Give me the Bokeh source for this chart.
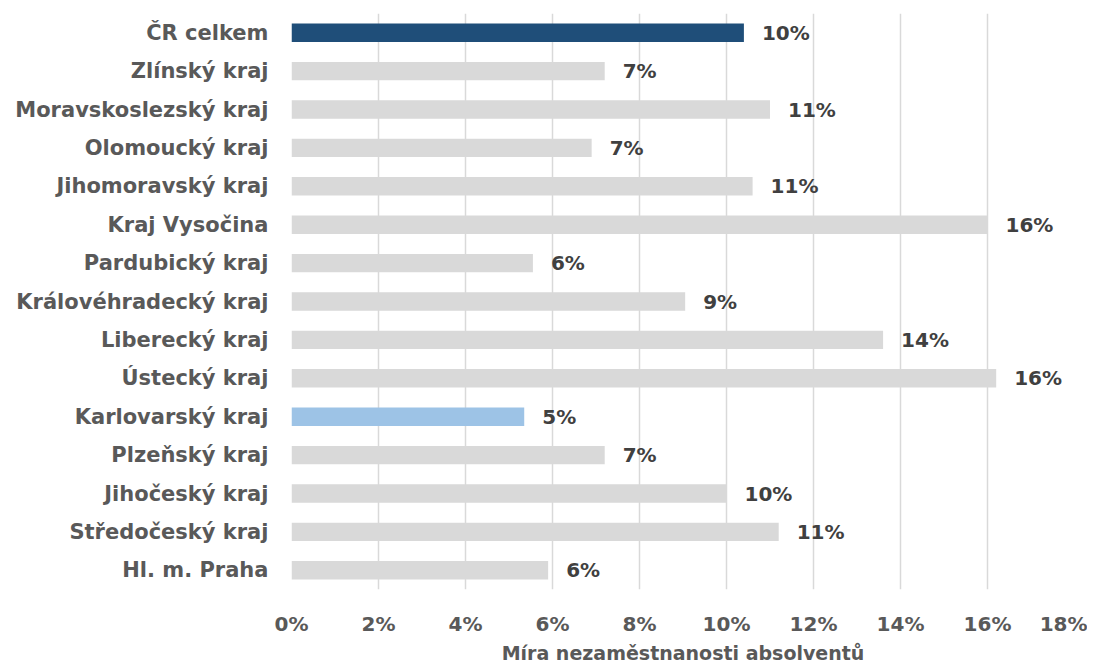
from bokeh.plotting import figure
from bokeh.models import ColumnDataSource, FactorRange, FixedTicker, CustomJSTickFormatter
from bokeh.embed import file_html
from bokeh.resources import INLINE
from bokeh.core.properties import value

regions = ["ČR celkem", "Zlínský kraj", "Moravskoslezský kraj", "Olomoucký kraj",
           "Jihomoravský kraj", "Kraj Vysočina", "Pardubický kraj", "Královéhradecký kraj",
           "Liberecký kraj", "Ústecký kraj", "Karlovarský kraj", "Plzeňský kraj",
           "Jihočeský kraj", "Středočeský kraj", "Hl. m. Praha"]
rates = [10.4, 7.2, 11.0, 6.9, 10.6, 16.0, 5.55, 9.05, 13.6, 16.2, 5.35, 7.2, 10.0, 11.2, 5.9]
x_ticks = [0, 2, 4, 6, 8, 10, 12, 14, 16, 18]
x_title = "Míra nezaměstnanosti absolventů"

colors = []
for r in regions:
    if r == "ČR celkem":
        colors.append("#1F4E79")
    elif r == "Karlovarský kraj":
        colors.append("#9DC3E6")
    else:
        colors.append("#D9D9D9")

labels = [f"{round(v):d}%" for v in rates]
src = ColumnDataSource(dict(region=regions, rate=rates, color=colors, label=labels))

FONT = "DejaVu Sans"

p = figure(frame_width=783, frame_height=576, output_backend="svg", toolbar_location=None,
           y_range=FactorRange(*list(reversed(regions))), x_range=(0, 18),
           min_border_left=291, min_border_right=13, min_border_top=13, min_border_bottom=0)
p.outline_line_color = None

p.hbar(y="region", right="rate", left=0, height=0.48, color="color", source=src, line_color=None)
p.text(x="rate", y="region", text="label", source=src, x_offset=18,
       text_font=value(FONT), text_font_style="bold", text_font_size="20px",
       text_color="#404040", text_baseline="middle", text_align="left")

p.xaxis.ticker = FixedTicker(ticks=x_ticks)
p.xaxis.formatter = CustomJSTickFormatter(code="return tick + '%';")
p.xaxis.axis_line_color = None
p.xaxis.major_tick_line_color = None
p.xaxis.minor_tick_line_color = None
p.xaxis.major_tick_out = 0
p.xaxis.major_tick_in = 0
p.xaxis.major_label_standoff = 22
p.xaxis.major_label_text_font = FONT
p.xaxis.major_label_text_font_style = "bold"
p.xaxis.major_label_text_font_size = "20px"
p.xaxis.major_label_text_color = "#595959"
p.xaxis.axis_label = x_title
p.xaxis.axis_label_text_font = FONT
p.xaxis.axis_label_text_font_style = "bold"
p.xaxis.axis_label_text_font_size = "19px"
p.xaxis.axis_label_text_color = "#595959"
p.xaxis.axis_label_standoff = 3

p.yaxis.axis_line_color = None
p.yaxis.major_tick_line_color = None
p.yaxis.minor_tick_line_color = None
p.yaxis.major_tick_out = 0
p.yaxis.major_tick_in = 0
p.yaxis.major_label_standoff = 23
p.yaxis.major_label_text_font = FONT
p.yaxis.major_label_text_font_style = "bold"
p.yaxis.major_label_text_font_size = "21px"
p.yaxis.major_label_text_color = "#595959"

p.xgrid.grid_line_color = "#D9D9D9"
p.xgrid.grid_line_width = 1.5
p.ygrid.grid_line_color = None

open("out.html", "w").write(file_html(p, INLINE))
